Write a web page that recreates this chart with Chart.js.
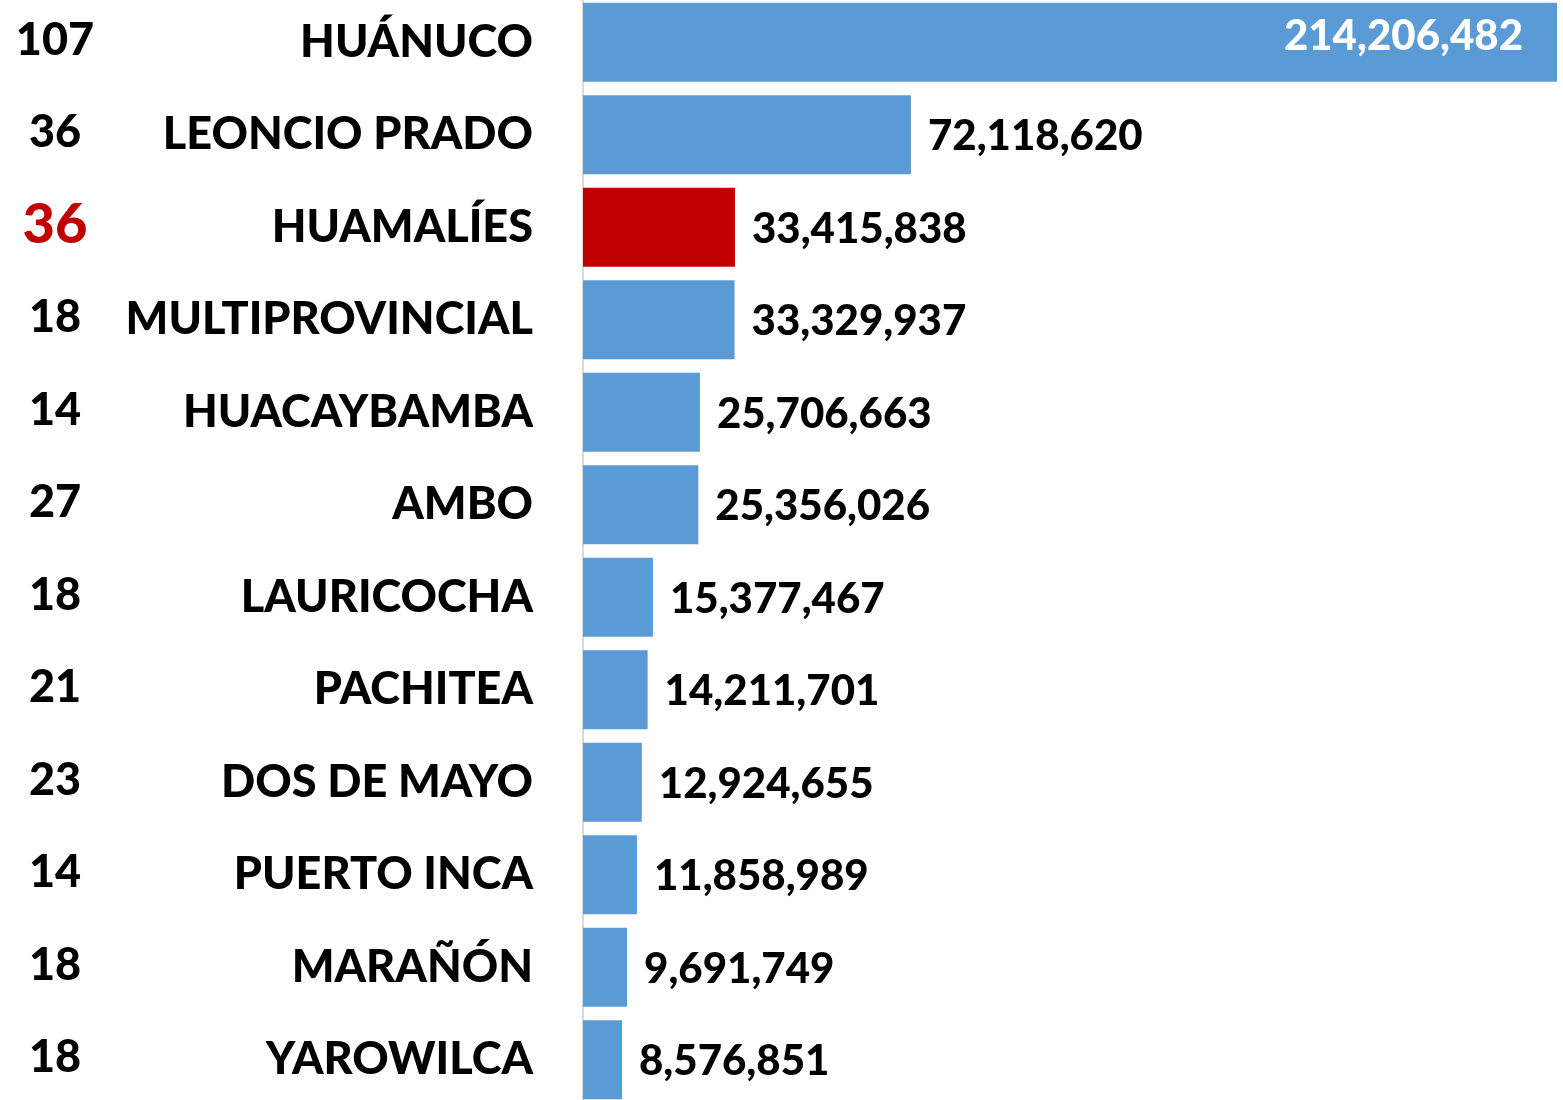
<!DOCTYPE html>
<html>
<head>
<meta charset="utf-8">
<script src="https://cdn.jsdelivr.net/npm/chart.js@4/dist/chart.umd.min.js"></script>
<style>
  html, body { margin: 0; padding: 0; background: #ffffff; overflow: hidden; width: 1563px; height: 1100px; }
  #c { position: absolute; left: 0; top: -4px; }
</style>
</head>
<body>
<canvas id="c" width="1563" height="1110"></canvas>
<script>
const categories = ['HUÁNUCO','LEONCIO PRADO','HUAMALÍES','MULTIPROVINCIAL','HUACAYBAMBA','AMBO','LAURICOCHA','PACHITEA','DOS DE MAYO','PUERTO INCA','MARAÑÓN','YAROWILCA'];
const values = [214206482,72118620,33415838,33329937,25706663,25356026,15377467,14211701,12924655,11858989,9691749,8576851];
const counts = [107,36,36,18,14,27,18,21,23,14,18,18];
const highlightCategory = 'HUAMALÍES';

const BLUE = '#5B9BD5', RED = '#C00000';
const FONT = 'Lato';
const WEIGHT = '900';
const barColors = categories.map(c => c === highlightCategory ? RED : BLUE);

const labelsPlugin = {
  id: 'labelsPlugin',
  afterDatasetsDraw(chart) {
    const ctx = chart.ctx;
    const meta = chart.getDatasetMeta(0);
    const area = chart.chartArea;
    ctx.save();
    meta.data.forEach((bar, i) => {
      const txt = values[i].toLocaleString('en-US');
      ctx.font = WEIGHT + ' 42px ' + FONT;
      ctx.textBaseline = 'middle';
      const w = ctx.measureText(txt).width;
      if (bar.x + 17 + w > area.right) {
        ctx.fillStyle = '#ffffff';
        ctx.textAlign = 'right';
        ctx.fillText(txt, bar.x - 34, bar.y - 6);
      } else {
        ctx.fillStyle = '#000000';
        ctx.textAlign = 'left';
        ctx.fillText(txt, bar.x + 17, bar.y + 2);
      }
      const hl = categories[i] === highlightCategory;
      ctx.font = WEIGHT + ' ' + (hl ? 56 : 45) + 'px ' + FONT;
      ctx.fillStyle = hl ? RED : '#000000';
      ctx.textAlign = 'center';
      ctx.fillText(String(counts[i]), 55, bar.y - 2);
    });
    ctx.restore();
  }
};

function build() {
  new Chart(document.getElementById('c'), {
    type: 'bar',
    data: {
      labels: categories,
      datasets: [{
        data: values,
        backgroundColor: barColors,
        borderWidth: 0,
        barPercentage: 0.854,
        categoryPercentage: 1.0
      }]
    },
    options: {
      indexAxis: 'y',
      responsive: false,
      devicePixelRatio: 1,
      animation: false,
      layout: { autoPadding: false, padding: { left: 0, right: 6, top: 0, bottom: 0 } },
      plugins: { legend: { display: false }, tooltip: { enabled: false } },
      scales: {
        x: { display: false, min: 0, max: Math.max(...values) },
        y: {
          afterFit(scale) {
            scale.width = 583;
            scale.paddingTop = 0;
            scale.paddingBottom = 0;
          },
          grid: { display: false, drawTicks: false },
          border: { display: true, color: '#d9d9d9', width: 2, z: -1 },
          ticks: {
            padding: 50,
            color: '#000000',
            font: { family: FONT, weight: WEIGHT, size: 45 }
          }
        }
      }
    },
    plugins: [labelsPlugin]
  });
}

Promise.all([
  document.fonts.load(WEIGHT + ' 45px Lato'),
  document.fonts.load(WEIGHT + ' 56px Lato')
]).then(build, build);
</script>
</body>
</html>
